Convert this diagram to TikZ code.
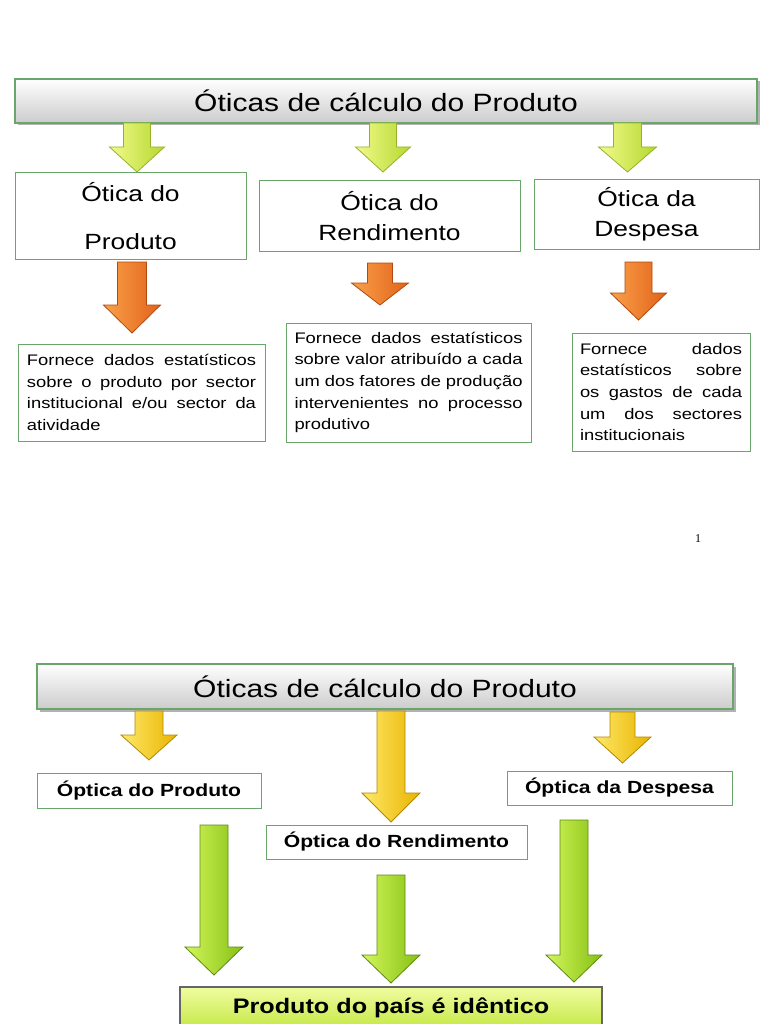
\documentclass[tikz,border=0pt]{standalone}
\usepackage{fontspec}
\setmainfont[FakeStretch=1.2]{Liberation Sans}
\newfontfamily\pagenumfont{Liberation Serif}
\usetikzlibrary{shadows}

\definecolor{boxgreen}{HTML}{6AA56A}
\definecolor{ygA}{HTML}{F2FA8A}
\definecolor{ygB}{HTML}{B4D830}
\definecolor{ygO}{HTML}{95B22A}
\definecolor{orA}{HTML}{F9A14A}
\definecolor{orB}{HTML}{E2621A}
\definecolor{orO}{HTML}{B04A10}
\definecolor{yeA}{HTML}{FFE868}
\definecolor{yeB}{HTML}{E8B400}
\definecolor{yeO}{HTML}{B08A00}
\definecolor{grA}{HTML}{D2F65A}
\definecolor{grB}{HTML}{86C014}
\definecolor{grO}{HTML}{5E8A10}
\definecolor{finA}{HTML}{F0FCA0}
\definecolor{finB}{HTML}{C4E844}

\newcommand{\blockarrow}[7]{%
  \path[#1] (#2-#6,#3) -- (#2+#6,#3) -- (#2+#6,#4) -- (#2+#7,#4) -- (#2,#5)
    -- (#2-#7,#4) -- (#2-#6,#4) -- cycle;}
\newcommand{\justsetup}{\tolerance=10000\relax\hyphenpenalty=10000\relax
  \exhyphenpenalty=10000\relax}

\tikzset{
  titlebar/.style={draw=boxgreen, line width=1.2pt, top color=white, bottom color=gray!40,
    drop shadow={shadow xshift=2.5pt, shadow yshift=-2.5pt, fill=black!60, opacity=.5},
    inner sep=0pt, font=\fontsize{25}{30}\selectfont},
  headbox/.style={draw=boxgreen, line width=1pt, fill=white, inner sep=0pt, align=center,
    font=\fontsize{22}{30}\selectfont},
  infobox/.style={draw=boxgreen, line width=1pt, fill=white, inner sep=0pt, align=justify,
    font=\fontsize{15.3}{21.6}\selectfont},
  optbox/.style={draw=boxgreen, line width=1pt, fill=white, inner sep=0pt,
    font=\fontsize{17.6}{21}\selectfont\bfseries},
  finalbox/.style={draw=black!60, line width=1.2pt, top color=finA, bottom color=finB,
    inner sep=0pt, font=\fontsize{21}{25}\selectfont\bfseries},
  ygarrow/.style={draw=ygO, line width=0.8pt, left color=ygA, right color=ygB},
  orarrow/.style={draw=orO, line width=0.8pt, left color=orA, right color=orB},
  yearrow/.style={draw=yeO, line width=0.8pt, left color=yeA, right color=yeB},
  grarrow/.style={draw=grO, line width=0.8pt, left color=grA, right color=grB},
}

\begin{document}
\begin{tikzpicture}[x=1pt, y=-1pt]
\useasboundingbox (0,0) rectangle (768,1024);
\fill[white] (0,0) rectangle (768,1024);

% ---------- upper slide ----------
\node[titlebar, minimum width=742pt, minimum height=44pt] (t1) at (386,101)
  {Óticas de cálculo do Produto};

\blockarrow{ygarrow}{137}{123}{147}{172}{13.5}{27.5}
\blockarrow{ygarrow}{383}{123}{147}{172}{13.5}{27.5}
\blockarrow{ygarrow}{627.5}{123}{147}{172}{14}{29}

\node[headbox, minimum width=231pt, minimum height=86pt, font=\fontsize{22}{48}\selectfont]
  (hp) at (130.5,216) {Ótica do\\Produto};
\node[headbox, minimum width=261pt, minimum height=70pt] (hr) at (389.5,216)
  {Ótica do\\Rendimento};
\node[headbox, minimum width=225pt, minimum height=69pt] (hd) at (646.5,214.5)
  {Ótica da\\Despesa};

\blockarrow{orarrow}{132}{262}{305}{333}{14.5}{28.5}
\blockarrow{orarrow}{380}{263}{283}{305}{12.5}{28.5}
\blockarrow{orarrow}{638.5}{262}{293}{320}{13.5}{28}

\node[infobox, minimum width=247pt, minimum height=97pt, text width=229pt] (ip) at (141.5,392.5)
  {\justsetup Fornece dados estatísticos\linebreak sobre o produto por sector\linebreak
   institucional e/ou sector da\linebreak atividade};
\node[infobox, minimum width=245pt, minimum height=119pt, text width=228pt] (ir) at (408.5,382.5)
  {\justsetup Fornece dados estatísticos\linebreak sobre valor atribuído a cada\linebreak
   um dos fatores de produção\linebreak intervenientes no processo\linebreak produtivo};
\node[infobox, minimum width=178pt, minimum height=118pt, text width=162pt] (id) at (661,392)
  {\justsetup Fornece dados\linebreak estatísticos sobre\linebreak os gastos de cada\linebreak
   um dos sectores\linebreak institucionais};

\node[font=\pagenumfont\fontsize{12}{14}\selectfont, inner sep=0pt] (pg) at (698,539) {1};

% ---------- lower slide ----------
\node[titlebar, minimum width=696pt, minimum height=45pt] (t2) at (385,686.5)
  {Óticas de cálculo do Produto};

\blockarrow{yearrow}{149}{711}{735}{760}{14}{28}
\blockarrow{yearrow}{391}{711}{793}{822}{14}{29}
\blockarrow{yearrow}{622.5}{712}{737}{763}{12.5}{28.5}

\node[optbox, minimum width=224pt, minimum height=35pt] (op) at (149,790.5) {Óptica do Produto};
\node[optbox, minimum width=261pt, minimum height=34pt] (or) at (396.5,842) {Óptica do Rendimento};
\node[optbox, minimum width=225pt, minimum height=34pt] (od) at (619.5,788) {Óptica da Despesa};

\blockarrow{grarrow}{214}{825}{947}{975}{14}{29}
\blockarrow{grarrow}{391}{875}{955}{983}{14}{29}
\blockarrow{grarrow}{574}{820}{955}{982}{14}{28}

\node[finalbox, minimum width=422pt, minimum height=42pt] (fin) at (391,1008)
  {Produto do país é idêntico};
\end{tikzpicture}
\end{document}
